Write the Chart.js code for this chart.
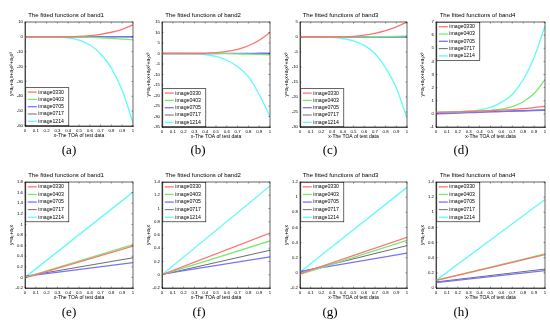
<!DOCTYPE html>
<html><head><meta charset="utf-8">
<script src="https://cdn.jsdelivr.net/npm/chart.js@4/dist/chart.umd.min.js"></script>
<style>
body{margin:0;background:#fff;width:550px;height:325px;position:relative;overflow:hidden}
canvas{position:absolute}
.lab{position:absolute;font-family:"Liberation Serif","DejaVu Serif",serif;font-size:13px;transform:translate(-50%,-50%);color:#000}
</style></head><body>
<script>
// ---------- data ----------
const seriesNames = ['image0330','image0403','image0705','image0717','image1214'];
const xs = [0,0.1,0.2,0.3,0.4,0.5,0.6,0.7,0.8,0.9,1];
const xEnds = [0,1];
const bandTitles = ['The fitted functions of band1','The fitted functions of band2','The fitted functions of band3','The fitted functions of band4'];
const cubicLabel = 'y=a\u2080+a\u2081x+a\u2082x\u00b2+a\u2083x\u00b3';
const linearLabel = 'y=a\u2080+a\u2081x';
const xLabel = 'x-The TOA of test data';
const panelLetters = ['(a)','(b)','(c)','(d)','(e)','(f)','(g)','(h)'];

// (a) band1 cubic
const a0330 = [0,0,0,0,0.05,0.3,0.8,1.7,3.1,5.1,8.0];
const a0403 = [0,0,0,0,-0.05,-0.15,-0.35,-0.6,-1.0,-1.5,-2.0];
const a0705 = [0,0,0,0,0,0.02,0.04,0.06,0.08,0.1,0.12];
const a0717 = [0,0,0,0,0,0,0,-0.02,-0.04,-0.06,-0.1];
const a1214 = [0,0,0,-0.1,-0.7,-2.2,-5.5,-11.5,-21,-36,-58];
// (b) band2 cubic
const b0330 = [0,0,0,0,0.1,0.4,1.0,2.0,3.7,6.3,10];
const b0403 = [0,0,0,0,0,-0.05,-0.1,-0.2,-0.3,-0.45,-0.6];
const b0705 = [0,0,0,0,0,0,0.02,0.05,0.08,0.12,0.15];
const b0717 = [0,0,0,0,0,0,0,0,0,0,0];
const b1214 = [0,0,0,-0.1,-0.5,-1.4,-3.2,-6.3,-11,-19.5,-30];
// (c) band3 cubic
const c0330 = [0,0,0,0,0.05,0.2,0.6,1.2,2.1,3.4,5.0];
const c0403 = [0,0,0,0,0,0.02,0.05,0.1,0.15,0.22,0.3];
const c0705 = [0,0,0,0,0,0,0,0.02,0.04,0.06,0.08];
const c0717 = [0,0,0,0,0,0,0,0,0,0,0];
const c1214 = [0,0,0,-0.1,-0.5,-1.3,-2.8,-5.5,-10.3,-17,-27];
// (d) band4 cubic
const d0330 = [0.12,0.14,0.16,0.18,0.21,0.24,0.28,0.33,0.4,0.48,0.58];
const d0403 = [0.12,0.14,0.16,0.19,0.22,0.27,0.36,0.55,0.92,1.55,2.6];
const d0705 = [0.0,0.03,0.06,0.09,0.12,0.15,0.17,0.2,0.22,0.25,0.27];
const d0717 = [0.02,0.05,0.08,0.11,0.14,0.17,0.2,0.23,0.26,0.29,0.31];
const d1214 = [0.12,0.13,0.15,0.2,0.3,0.5,0.88,1.5,2.6,4.3,6.7];
// (e) band1 linear
const e0330 = [-0.01,0.59];
const e0403 = [0.0,0.62];
const e0705 = [0.02,0.28];
const e0717 = [0.02,0.37];
const e1214 = [0.0,1.61];
// (f) band2 linear
const f0330 = [0.0,0.63];
const f0403 = [0.0,0.51];
const f0705 = [0.01,0.27];
const f0717 = [0.0,0.37];
const f1214 = [0.0,1.34];
// (g) band3 linear
const g0330 = [-0.01,0.47];
const g0403 = [-0.02,0.43];
const g0705 = [0.02,0.26];
const g0717 = [0.01,0.36];
const g1214 = [0.01,1.13];
// (h) band4 linear
const h0330 = [0.1,0.44];
const h0403 = [0.1,0.45];
const h0705 = [0.07,0.23];
const h0717 = [0.08,0.25];
const h1214 = [0.1,1.17];

// y axis ranges [min,max,step]
const yRanges = [[-60,10,10],[-35,15,5],[-30,5,5],[-1,7,1],[-0.2,1.8,0.2],[-0.2,1.4,0.2],[-0.2,1.2,0.2],[0,1.4,0.2]];

// ---------- styling / layout ----------
const colors = ['rgba(255,115,115,1)','rgba(115,235,115,1)','rgba(115,115,255,1)','rgba(70,70,70,1)','rgba(95,250,250,1)'];
const widths = [1.3,1.3,1.3,0.8,1.3];
const FONT = '"Liberation Sans","DejaVu Sans",Arial,sans-serif';
const boxes = [ // plot area [left, top, width, height]
  [25,22,108,104],[162,22,108,105],[300,22,107,105],[436,22,109,105],
  [25,182,108,106],[162,182,108,106],[300,182,107,106],[436,182,109,106]
];
const labelPos = [[69,150],[198,150],[330,150],[461,150],[69,312],[199,312],[330,312],[461,312]];

const panelData = [
  [xs,[a0330,a0403,a0705,a0717,a1214]],
  [xs,[b0330,b0403,b0705,b0717,b1214]],
  [xs,[c0330,c0403,c0705,c0717,c1214]],
  [xs,[d0330,d0403,d0705,d0717,d1214]],
  [xEnds,[e0330,e0403,e0705,e0717,e1214]],
  [xEnds,[f0330,f0403,f0705,f0717,f1214]],
  [xEnds,[g0330,g0403,g0705,g0717,g1214]],
  [xEnds,[h0330,h0403,h0705,h0717,h1214]]
];
const legendPos = ['bl','bl','bl','tl','tl','tl','tl','tl'];

const fmt = v => String(+(+v).toFixed(1));

const boxPlugin = {
  id:'boxPlugin',
  afterDraw(chart){
    const ca = chart.chartArea, ctx = chart.ctx;
    ctx.save();
    ctx.strokeStyle = '#000'; ctx.lineWidth = 0.6;
    ctx.strokeRect(ca.left, ca.top, ca.right-ca.left, ca.bottom-ca.top);
    const xsS = chart.scales.x, ysS = chart.scales.y;
    ctx.beginPath();
    xsS.ticks.forEach(t => { const px = xsS.getPixelForValue(t.value);
      ctx.moveTo(px, ca.bottom); ctx.lineTo(px, ca.bottom-1.5);
      ctx.moveTo(px, ca.top); ctx.lineTo(px, ca.top+1.5); });
    ysS.ticks.forEach(t => { const py = ysS.getPixelForValue(t.value);
      ctx.moveTo(ca.left, py); ctx.lineTo(ca.left+1.5, py);
      ctx.moveTo(ca.right, py); ctx.lineTo(ca.right-1.5, py); });
    ctx.lineWidth = 0.4; ctx.stroke();
    ctx.restore();
  }
};

const inLegend = {
  id:'inLegend',
  afterDraw(chart, args, opts){
    const ca = chart.chartArea, ctx = chart.ctx;
    const ds = chart.data.datasets;
    const rowH = opts.rowH, w = opts.w, h = ds.length*rowH + 1.5;
    const x = ca.left + 0.8;
    const y = opts.pos === 'bl' ? ca.bottom - h - 0.3 : ca.top + 0.3;
    ctx.save();
    ctx.fillStyle = '#fff'; ctx.fillRect(x, y, w, h);
    ctx.strokeStyle = '#000'; ctx.lineWidth = 0.6; ctx.strokeRect(x, y, w, h);
    ctx.font = '5.2px ' + FONT; ctx.textBaseline = 'middle'; ctx.textAlign = 'left';
    ds.forEach((d, i) => {
      const cy = y + 0.75 + rowH*(i+0.5);
      ctx.strokeStyle = d.borderColor; ctx.lineWidth = d.borderWidth;
      ctx.beginPath(); ctx.moveTo(x+2, cy); ctx.lineTo(x+11, cy); ctx.stroke();
      ctx.fillStyle = '#000'; ctx.fillText(d.label, x+12.5, cy);
    });
    ctx.restore();
  }
};

for (let p = 0; p < 8; p++) {
  const [pl, pt, pw, ph] = boxes[p];
  const L = pl - 26, T = pt - 22, W = pw + 26 + 5, H = ph + 22 + 20;
  const cv = document.createElement('canvas');
  cv.width = W; cv.height = H;
  cv.style.left = L + 'px'; cv.style.top = T + 'px';
  cv.style.width = W + 'px'; cv.style.height = H + 'px';
  document.body.appendChild(cv);
  const [xv, series] = panelData[p];
  const [ymin, ymax, ystep] = yRanges[p];
  const datasets = series.map((vals, i) => ({
    label: seriesNames[i],
    data: vals.map((v, k) => ({x: xv[k], y: v})),
    borderColor: colors[i], borderWidth: widths[i],
    pointRadius: 0, fill: false,
    cubicInterpolationMode: 'monotone'
  }));
  new Chart(cv, {
    type: 'line',
    data: { datasets },
    options: {
      responsive: false, animation: false, devicePixelRatio: 1,
      layout: { padding: { left: 0, right: 5, top: 0, bottom: 0 } },
      plugins: {
        legend: { display: false },
        tooltip: { enabled: false },
        title: { display: true, text: bandTitles[p % 4], color: '#000',
          font: { size: 6, family: FONT, weight: 'normal' }, padding: { top: 11.8, bottom: 3 } },
        inLegend: { pos: legendPos[p], rowH: p < 4 ? 7.3 : 7.6, w: 43 }
      },
      scales: {
        x: { type: 'linear', min: 0, max: 1,
          afterFit(s) { s.height = 20; },
          grid: { display: false, drawTicks: false },
          border: { display: true, color: '#000', width: 0.6 },
          ticks: { stepSize: 0.1, color: '#000', padding: 2, maxRotation: 0, autoSkip: false,
            font: { size: 4.3, family: FONT }, callback: v => fmt(v) },
          title: { display: true, text: xLabel, color: '#000', font: { size: 5, family: FONT },
            padding: { top: 0, bottom: 7.5 } }
        },
        y: { type: 'linear', min: ymin, max: ymax,
          afterFit(s) { s.width = 26; },
          grid: { display: false, drawTicks: false },
          border: { display: true, color: '#000', width: 0.6 },
          ticks: { stepSize: ystep, color: '#000', padding: 2, autoSkip: false,
            font: { size: 4.3, family: FONT }, callback: v => fmt(v) },
          title: { display: true, text: p < 4 ? cubicLabel : linearLabel, color: '#000',
            font: { size: 5, family: FONT }, padding: { top: 10, bottom: 0 } }
        }
      }
    },
    plugins: [boxPlugin, inLegend]
  });
}
panelLetters.forEach((t, i) => {
  const d = document.createElement('div');
  d.className = 'lab'; d.textContent = t;
  d.style.left = labelPos[i][0] + 'px'; d.style.top = labelPos[i][1] + 'px';
  document.body.appendChild(d);
});
</script>
</body></html>
